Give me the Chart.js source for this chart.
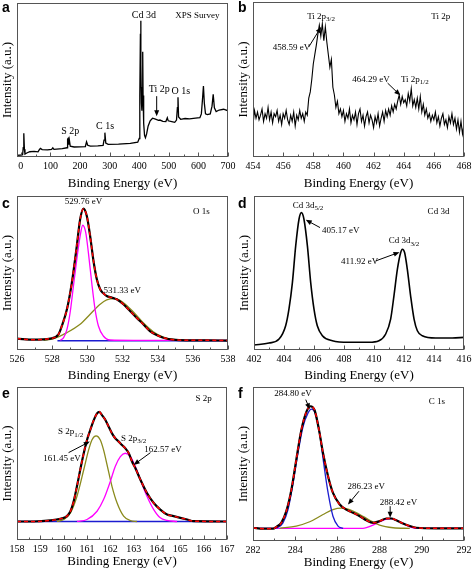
<!DOCTYPE html>
<html>
<head>
<meta charset="utf-8">
<script src="https://cdn.jsdelivr.net/npm/chart.js@4.4.1/dist/chart.umd.min.js"></script>
<style>
body{margin:0;background:#fff;width:472px;height:571px;overflow:hidden;position:relative;}
canvas{position:absolute;}
.tag{position:absolute;font:bold 14px "Liberation Sans",Arial,sans-serif;line-height:14px;color:#000;}
</style>
</head>
<body>
<canvas id="chartA"></canvas>
<canvas id="chartB"></canvas>
<canvas id="chartC"></canvas>
<canvas id="chartD"></canvas>
<canvas id="chartE"></canvas>
<canvas id="chartF"></canvas>
<div class="tag" style="left:2px;top:0px">a</div>
<div class="tag" style="left:238px;top:0px">b</div>
<div class="tag" style="left:2px;top:196px">c</div>
<div class="tag" style="left:238px;top:196px">d</div>
<div class="tag" style="left:2px;top:386px">e</div>
<div class="tag" style="left:238px;top:386px">f</div>
<script>
const serif = '"Liberation Serif","Times New Roman",serif';

// tick labels
const surveyTicks = [0,100,200,300,400,500,600,700];
const tiTicks = [454,456,458,460,462,464,466,468];
const oTicks = [526,528,530,532,534,536,538];
const cdTicks = [402,404,406,408,410,412,414,416];
const sTicks = [158,159,160,161,162,163,164,165,166,167];
const cTicks = [282,284,286,288,290,292];

// a - survey
const surveyEnergy = [-13,0,6,8,10,12,14,20,30,45,58,62,66,72,90,104,108,112,140,156,158,160,162,164,167,180,200,218,222,226,235,260,278,281,284,287,295,330,370,395,400,402,404,405,406,407.5,409,410.5,411.8,413,415,418,421,425,430,437,445,455,465,470,480,490,495,498,510,520,526,529,531,533,540,555,570,590,605,610,614,617,620,624,630,640,646,650,654,660,670,685,700];
const surveyCounts = [1.0,1.3,1.5,6,15.4,5,1.9,2.6,3.4,3.6,3.3,4.6,5.6,4.8,4.6,5.0,6.0,5.0,5.4,6.0,11.5,12.1,8.0,11.0,7.0,6.5,6.6,6.8,9.9,7.6,7.0,7.2,7.6,11,15.8,9,8.2,8.4,8.8,9.6,12,40,80,88.5,60,35,30,45,68.4,40,22,14,12.5,15,20,23.5,25.2,24.6,23.8,24.0,23.2,23.0,25.5,23.5,23.0,22.5,24,32,38.8,26,24.5,25,24.8,25.2,25.5,28,38,46.1,35,28,27.5,28,33,40.7,32,29.5,30.5,31,30];

// b - Ti 2p
const tiEnergy = [454.0,454.1,454.2,454.3,454.4,454.5,454.6,454.7,454.8,454.9,455.0,455.1,455.2,455.3,455.4,455.5,455.6,455.7,455.8,455.9,456.0,456.1,456.2,456.3,456.4,456.5,456.6,456.7,456.8,456.9,457.0,457.1,457.2,457.3,457.4,457.5,457.6,457.7,457.8,457.9,458.0,458.1,458.2,458.3,458.4,458.5,458.6,458.7,458.8,458.9,459.0,459.1,459.2,459.3,459.4,459.5,459.6,459.7,459.8,459.9,460.0,460.1,460.2,460.3,460.4,460.5,460.6,460.7,460.8,460.9,461.0,461.1,461.2,461.3,461.4,461.5,461.6,461.7,461.8,461.9,462.0,462.1,462.2,462.3,462.4,462.5,462.6,462.7,462.8,462.9,463.0,463.1,463.2,463.3,463.4,463.5,463.6,463.7,463.8,463.9,464.0,464.1,464.2,464.3,464.4,464.5,464.6,464.7,464.8,464.9,465.0,465.1,465.2,465.3,465.4,465.5,465.6,465.7,465.8,465.9,466.0,466.1,466.2,466.3,466.4,466.5,466.6,466.7,466.8,466.9,467.0,467.1,467.2,467.3,467.4,467.5,467.6,467.7,467.8,467.9,468.0];
const tiCounts = [20.5,30,25,29,24,27,31,23,28,25,32,24,29,22,28,26,30,23,27,21,28,25,30,24,21,27,23,29,20,27,24,30,25,28,23,29,27,38,42,50,60,66,72,79,85,78,86,75,84,74,66,58,63,45,40,32,36,28,31,26,30,23,28,25,31,22,27,24,29,21,28,31,23,27,20,26,29,22,27,24,19,26,22,28,20,25,29,23,30,26,31,27,33,29,34,31,36,40,34,39,35,37,33,41,36,44,33,37,32,38,31,39,29,34,27,31,25,28,23,27,24,29,22,26,20,25,28,21,24,19,26,22,28,21,25,18,24,16,23,15,21];

// c - O 1s
const oSumEnergy = [526.00,526.95,527.89,528.36,528.55,528.84,529.12,529.40,529.59,529.78,529.97,530.16,530.35,530.54,530.73,530.91,531.10,531.39,531.67,532.05,532.43,532.80,533.18,533.56,533.94,534.32,534.88,535.64,536.77,538.00];
const oSumCounts = [7.4,6.7,7.4,10.2,15.6,26.4,43.7,67.5,84.8,91.8,87.0,74.0,57.8,45.9,39.4,36.8,35.1,34.0,32.9,29.7,25.3,21.0,16.7,12.3,9.7,8.0,6.7,6.3,6.3,6.1];
const oLatticeEnergy = [528.46,528.65,528.84,529.02,529.21,529.40,529.59,529.74,529.91,530.06,530.25,530.44,530.63,530.91,531.29,532.62,538.00];
const oLatticeCounts = [6.3,8.0,13.4,24.2,41.6,58.9,74.0,81.0,76.2,63.2,43.7,26.4,15.6,9.1,6.5,6.3,6.3];
const oHydroxylEnergy = [527.51,528.08,528.84,529.59,530.16,530.73,531.10,531.58,532.05,532.62,533.18,533.75,534.32,534.88,535.64,538.00];
const oHydroxylCounts = [6.3,7.4,11.3,16.7,23.2,29.7,32.5,33.3,30.7,24.7,17.7,11.9,8.4,6.9,6.3,6.3];
const oBaseEnergy = [528.3,538.0];
const oBaseCounts = [6.0,6.0];

// d - Cd 3d
const cdEnergy = [402.00,403.00,403.67,404.11,404.33,404.56,404.78,405.00,405.16,405.33,405.56,405.78,406.00,406.22,406.56,407.22,408.33,409.67,410.33,410.78,411.11,411.33,411.56,411.78,411.89,412.04,412.22,412.44,412.67,412.89,413.22,414.11,415.22,416.00];
const cdCounts = [3.2,4.5,7.1,15.8,26.6,43.8,67.6,84.9,89.2,84.9,67.6,43.8,26.6,15.8,9.3,6.0,5.0,5.0,6.0,10.4,20.1,35.2,52.5,63.3,65.4,63.3,52.5,35.2,20.1,12.5,9.3,7.8,7.8,8.2];

// e - S 2p
const sSumEnergy = [158.00,158.71,159.43,159.86,160.14,160.29,160.43,160.57,160.71,160.86,161.00,161.14,161.29,161.43,161.53,161.64,161.79,161.93,162.07,162.21,162.36,162.50,162.64,162.79,162.93,163.07,163.29,163.57,163.86,164.14,164.43,164.71,165.29,165.57,167.00];
const sSumCounts = [12.1,12.1,12.8,13.9,15.6,18.8,25.3,35.1,45.9,56.7,65.4,71.9,78.4,82.7,83.8,81.6,78.4,74.0,69.7,66.5,64.3,62.1,60.0,56.7,51.3,47.0,39.4,30.7,24.2,19.9,16.7,15.6,13.4,12.3,12.1];
const sHalfEnergy = [159.71,160.00,160.29,160.57,160.86,161.07,161.21,161.39,161.57,161.71,161.86,162.07,162.29,162.57,162.86,163.14];
const sHalfCounts = [12.1,13.4,17.7,28.6,45.9,58.9,65.4,68.0,65.4,58.9,49.1,35.1,24.2,15.6,12.6,12.1];
const sThreeEnergy = [160.57,161.00,161.43,161.71,162.00,162.21,162.43,162.64,162.86,163.07,163.29,163.57,163.86,164.14,164.43,164.86];
const sThreeCounts = [12.1,13.4,18.8,26.4,38.3,48.1,54.5,56.7,54.5,48.1,39.4,28.6,19.9,14.5,12.8,12.1];
const sBaseEnergy = [158,167];
const sBaseCounts = [12.1,12.1];

// f - C 1s
const cSumEnergy = [282.00,282.47,282.95,283.11,283.34,283.58,283.82,284.05,284.29,284.53,284.72,284.92,285.13,285.32,285.56,285.79,286.11,286.42,286.74,287.06,287.37,287.69,288.00,288.32,288.56,288.79,289.11,289.43,289.74,290.69,292.00];
const cSumCounts = [8.6,8.0,8.0,9.2,11.8,19.4,33.3,52.7,72.0,83.9,87.5,84.9,72.0,57.0,41.9,31.2,23.7,20.4,18.3,16.1,13.5,11.8,12.9,14.6,14.6,13.5,11.4,9.7,8.6,8.2,8.2];
const cCCEnergy = [283.11,283.42,283.66,283.90,284.13,284.37,284.61,284.77,284.95,285.16,285.35,285.56,285.79,286.03,286.27];
const cCCCounts = [8.2,11.8,20.4,37.6,57.0,74.2,83.2,85.6,82.8,69.9,50.5,31.2,16.1,9.7,8.2];
const cCOEnergy = [283.26,284.05,284.69,285.32,285.79,286.19,286.58,287.06,287.53,288.00,288.64,289.43];
const cCOCounts = [8.2,9.7,12.5,17.2,20.4,21.3,20.4,17.2,13.5,10.3,8.6,8.2];
const cOCOEnergy = [282.00,287.21,287.69,288.00,288.32,288.51,288.79,289.11,289.43,289.82,292.00];
const cOCOCounts = [8.2,8.2,10.3,12.5,14.2,14.6,13.5,11.4,9.2,8.2,8.2];

const RED = "#ff0000", MAG = "#ff00ff", OLIVE = "#8a8a1c", BLUE = "#1c1cd0";

function pts(xs, ys){
return xs.map((x,i)=>({x:x, y:ys[i]}));
}

function curve(xs, ys, color, width, smooth, dash){
return {
data: pts(xs, ys),
borderColor: color,
borderWidth: width,
pointRadius: 0,
fill: false,
tension: 0,
cubicInterpolationMode: smooth ? "monotone" : "default",
borderDash: dash || []
};
}

function drawNote(ctx, chart, n){
let px = chart.scales.x.getPixelForValue(n.x);
let py = chart.scales.y.getPixelForValue(n.y);
let size = n.size || 9;
let subSize = Math.round(size*0.8);
ctx.font = size + "px " + serif;
let w1 = ctx.measureText(n.t).width;
let w2 = 0;
if(n.sub){
ctx.font = subSize + "px " + serif;
w2 = ctx.measureText(n.sub).width;
}
let x0 = px - (w1+w2)/2;
ctx.textAlign = "left";
ctx.textBaseline = "middle";
ctx.fillStyle = "#000";
ctx.font = size + "px " + serif;
ctx.fillText(n.t, x0, py);
if(n.sub){
ctx.font = subSize + "px " + serif;
ctx.fillText(n.sub, x0 + w1, py + 3);
}
}

function drawArrow(ctx, chart, a){
let xs = chart.scales.x, ys = chart.scales.y;
let x1 = xs.getPixelForValue(a[0]), y1 = ys.getPixelForValue(a[1]);
let x2 = xs.getPixelForValue(a[2]), y2 = ys.getPixelForValue(a[3]);
let ang = Math.atan2(y2-y1, x2-x1);
ctx.strokeStyle = "#000";
ctx.lineWidth = 1;
ctx.beginPath();
ctx.moveTo(x1,y1);
ctx.lineTo(x2 - 4*Math.cos(ang), y2 - 4*Math.sin(ang));
ctx.stroke();
ctx.fillStyle = "#000";
ctx.beginPath();
ctx.moveTo(x2,y2);
ctx.lineTo(x2 - 6*Math.cos(ang) + 2.5*Math.sin(ang), y2 - 6*Math.sin(ang) - 2.5*Math.cos(ang));
ctx.lineTo(x2 - 6*Math.cos(ang) - 2.5*Math.sin(ang), y2 - 6*Math.sin(ang) + 2.5*Math.cos(ang));
ctx.closePath();
ctx.fill();
}

function makePanel(id, rect, axisH, xMin, xMax, major, datasets, notes, arrows){
const padTop = 5, padRight = 12, yW = 17;
let w = (rect.right - rect.left) + yW + padRight;
let h = (rect.bottom - rect.top) + padTop + axisH;
let cv = document.getElementById(id);
cv.width = w; cv.height = h;
cv.style.width = w + "px"; cv.style.height = h + "px";
cv.style.left = (rect.left - yW) + "px";
cv.style.top = (rect.top - padTop) + "px";

const frame = {
id: "frame" + id,
afterDatasetsDraw(chart){
let ctx = chart.ctx, ca = chart.chartArea, sx = chart.scales.x;
ctx.save();
ctx.strokeStyle = "#555";
ctx.lineWidth = 1;
ctx.strokeRect(Math.round(ca.left)+0.5, Math.round(ca.top)+0.5, Math.round(ca.right-ca.left)-1, Math.round(ca.bottom-ca.top)-1);
let step = major[1] - major[0];
let b = Math.round(ca.bottom) - 0.5;
ctx.beginPath();
major.forEach(v=>{
let p = Math.round(sx.getPixelForValue(v)) + 0.5;
ctx.moveTo(p, b); ctx.lineTo(p, b - 4);
let m = v + step/2;
if(m < xMax){
let q = Math.round(sx.getPixelForValue(m)) + 0.5;
ctx.moveTo(q, b); ctx.lineTo(q, b - 2);
}
});
ctx.stroke();
arrows.forEach(a=>drawArrow(ctx, chart, a));
notes.forEach(n=>drawNote(ctx, chart, n));
ctx.restore();
}
};

return new Chart(cv.getContext("2d"), {
type: "line",
data: { datasets: datasets },
plugins: [frame],
options: {
responsive: false,
animation: false,
devicePixelRatio: 1,
layout: { padding: { left:0, top:padTop, right:padRight, bottom:0 } },
plugins: { legend:{display:false}, tooltip:{enabled:false} },
scales: {
x: {
type: "linear",
min: xMin, max: xMax,
afterBuildTicks: s=>{ s.ticks = major.map(v=>({value:v})); },
afterFit: s=>{ s.height = axisH; },
ticks: { font:{family:serif, size:10}, color:"#000", padding:3, maxRotation:0, autoSkip:false },
grid: { display:false, drawTicks:false },
border: { display:false },
title: { display:true, text:"Binding Energy (eV)", font:{family:serif, size:13}, color:"#000", padding:0 }
},
y: {
min: 0, max: 100,
afterFit: s=>{ s.width = yW; },
ticks: { display:false },
grid: { display:false, drawTicks:false },
border: { display:false },
title: { display:true, text:"Intensity (a.u.)", font:{family:serif, size:13}, color:"#000", padding:0 }
}
}
}
});
}

window.onload = function(){

makePanel("chartA", {left:17, top:3, right:228, bottom:157}, 34, -13, 700, surveyTicks,
[ curve(surveyEnergy, surveyCounts, "#000", 1.3, false) ],
[
{x:415.8, y:92.2, t:"Cd 3d", size:10},
{x:596.6, y:91.8, t:"XPS Survey"},
{x:467.4, y:44.0, t:"Ti 2p", size:10},
{x:540.4, y:42.4, t:"O 1s", size:10},
{x:284.5, y:19.7, t:"C 1s", size:10},
{x:166.7, y:16.4, t:"S 2p", size:10}
],
[ [459, 39.5, 459, 26.5] ]
);

makePanel("chartB", {left:253, top:2, right:464, bottom:157}, 34, 454, 468, tiTicks,
[ curve(tiEnergy, tiCounts, "#000", 1.1, false) ],
[
{x:458.52, y:90.8, t:"Ti 2p", sub:"3/2"},
{x:456.56, y:70.5, t:"458.59 eV"},
{x:466.46, y:90.8, t:"Ti 2p"},
{x:461.83, y:49.9, t:"464.29 eV"},
{x:464.74, y:49.9, t:"Ti 2p", sub:"1/2"}
],
[ [457.7, 71.0, 458.52, 83.9], [462.93, 47.7, 463.77, 39.8] ]
);

makePanel("chartC", {left:17, top:196, right:228, bottom:350}, 33, 526, 538, oTicks,
[
curve(oSumEnergy, oSumCounts, RED, 1.5, true, [4,3]),
curve(oSumEnergy, oSumCounts, "#000", 2.2, true),
curve(oLatticeEnergy, oLatticeCounts, MAG, 1.3, true),
curve(oHydroxylEnergy, oHydroxylCounts, OLIVE, 1.3, true),
curve(oBaseEnergy, oBaseCounts, BLUE, 1.3, false)
],
[
{x:529.78, y:96.1, t:"529.76 eV"},
{x:531.99, y:38.3, t:"531.33 eV"},
{x:536.49, y:89.6, t:"O 1s"}
],
[]
);

makePanel("chartD", {left:254, top:196, right:464, bottom:350}, 33, 402, 416, cdTicks,
[ curve(cdEnergy, cdCounts, "#000", 1.6, true) ],
[
{x:405.6, y:93.9, t:"Cd 3d", sub:"5/2"},
{x:407.78, y:77.3, t:"405.17 eV"},
{x:412.0, y:70.8, t:"Cd 3d", sub:"3/2"},
{x:409.04, y:57.2, t:"411.92 eV"},
{x:414.3, y:89.6, t:"Cd 3d"}
],
[ [406.4, 79.5, 405.45, 84.5], [410.1, 57.8, 411.7, 63.5] ]
);

makePanel("chartE", {left:17, top:387, right:227, bottom:540}, 29, 158, 167, sTicks,
[
curve(sSumEnergy, sSumCounts, RED, 1.5, true, [4,3]),
curve(sSumEnergy, sSumCounts, "#000", 2.2, true),
curve(sThreeEnergy, sThreeCounts, MAG, 1.3, true),
curve(sHalfEnergy, sHalfCounts, OLIVE, 1.3, true),
curve(sBaseEnergy, sBaseCounts, BLUE, 1.3, false)
],
[
{x:160.30, y:70.8, t:"S 2p", sub:"1/2"},
{x:159.93, y:53.5, t:"161.45 eV"},
{x:163.0, y:66.5, t:"S 2p", sub:"3/2"},
{x:164.26, y:59.3, t:"162.57 eV"},
{x:166.0, y:92.4, t:"S 2p"}
],
[ [160.21, 57.1, 161.12, 64.3], [163.72, 57.1, 163.0, 49.1] ]
);

makePanel("chartF", {left:253, top:387, right:464, bottom:541}, 29, 282, 292, cTicks,
[
curve(cSumEnergy, cSumCounts, RED, 1.5, true, [4,3]),
curve(cSumEnergy, cSumCounts, "#000", 2.2, true),
curve(cCCEnergy, cCCCounts, BLUE, 1.3, true),
curve(cCOEnergy, cCOCounts, OLIVE, 1.3, true),
curve(cOCOEnergy, cOCOCounts, MAG, 1.3, true)
],
[
{x:283.9, y:95.7, t:"284.80 eV"},
{x:287.37, y:35.5, t:"286.23 eV"},
{x:288.9, y:25.2, t:"288.42 eV"},
{x:290.72, y:90.3, t:"C 1s"}
],
[ [284.5, 91.8, 284.69, 85.5], [287.02, 32.3, 286.5, 23.7], [288.5, 22.6, 288.5, 15.1] ]
);
};
</script>
</body>
</html>
